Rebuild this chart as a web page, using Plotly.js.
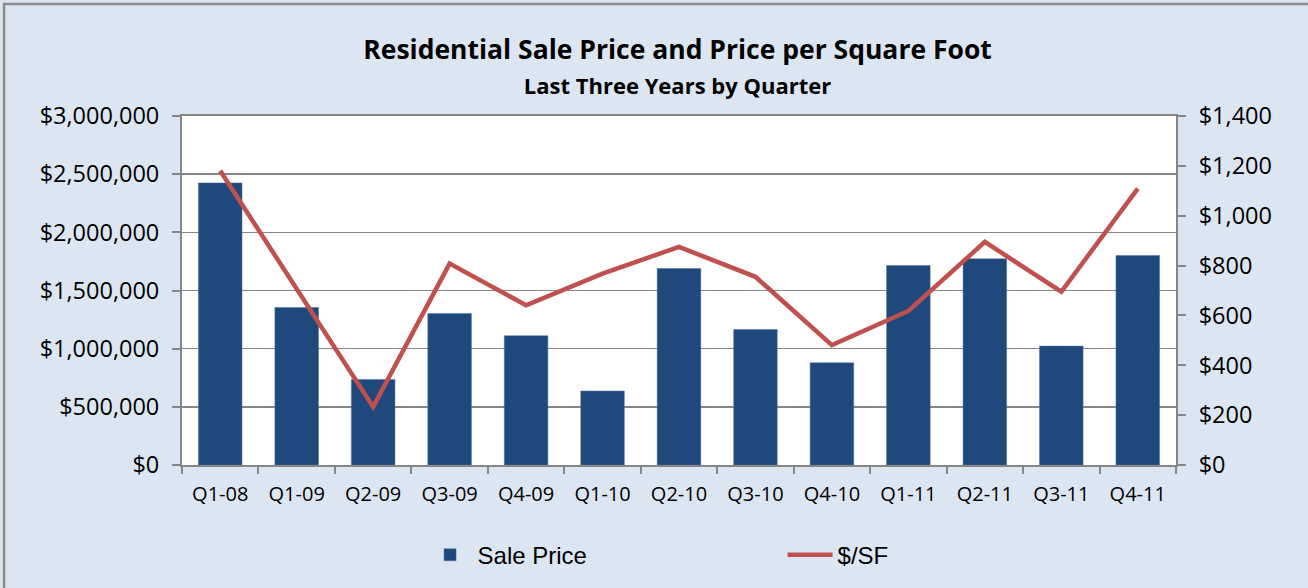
<!DOCTYPE html>
<html>
<head>
<meta charset="utf-8">
<script src="https://cdn.plot.ly/plotly-3.0.1.min.js"></script>
<style>html,body{margin:0;padding:0;background:#dce6f2;}#chart{width:1308px;height:588px;}</style>
</head>
<body>
<div id="chart"></div>
<script>
const quarters = ["Q1-08","Q1-09","Q2-09","Q3-09","Q4-09","Q1-10","Q2-10","Q3-10","Q4-10","Q1-11","Q2-11","Q3-11","Q4-11"];
const salePrice = [2425000,1354000,736000,1303000,1111000,636000,1689000,1165000,879000,1715000,1772000,1022000,1801000];
const pricePerSF = [1180,705,233,808,641,768,875,755,481,618,895,695,1109];
const leftTicks = [0,500000,1000000,1500000,2000000,2500000,3000000];
const rightTicks = [0,200,400,600,800,1000,1200,1400];

const fam = "'Open Sans', Lato, sans-serif";
const axisColor = "#868686";

const traces = [
  {type:"bar", name:"Sale Price", x:quarters, y:salePrice, marker:{color:"#1f497d", line:{color:"#4f6f9a", width:0.5}}, yaxis:"y"},
  {type:"scatter", mode:"lines", name:"$/SF", x:quarters, y:pricePerSF, line:{color:"#c0504d", width:4.5}, yaxis:"y2"}
];

const layout = {
  width:1308, height:588,
  paper_bgcolor:"#dce6f2", plot_bgcolor:"#ffffff",
  margin:{l:182, r:132, t:116, b:123, autoexpand:false},
  bargap:0.43,
  showlegend:true,
  title:{text:"<b>Residential Sale Price and Price per Square Foot</b><br><span style='font-size:22px'><b>Last Three Years by Quarter</b></span>", font:{family:fam, size:26.5, color:"#000"}, x:0.518, xanchor:"center", y:0.899, yanchor:"top"},
  xaxis:{type:"category", showline:true, mirror:true, linecolor:axisColor, linewidth:2, ticks:"outside", tickson:"boundaries", ticklen:7, tickcolor:axisColor, tickwidth:2, ticklabelstandoff:10, tickfont:{family:fam, size:20, color:"#000"}, showgrid:false, fixedrange:true},
  yaxis:{range:[0,3000000], tickvals:leftTicks, tickformat:"$,.0f", showline:true, linecolor:axisColor, linewidth:2, ticks:"outside", ticklen:8, tickcolor:axisColor, tickwidth:2, ticklabelstandoff:8, gridcolor:axisColor, gridwidth:1.6, tickfont:{family:fam, size:23.5, color:"#000"}, zeroline:false},
  yaxis2:{range:[0,1400], tickvals:rightTicks, tickformat:"$,.0f", overlaying:"y", side:"right", showline:true, linecolor:axisColor, linewidth:2, ticks:"outside", ticklen:8, tickcolor:axisColor, tickwidth:2, ticklabelstandoff:8, showgrid:false, zeroline:false, tickfont:{family:fam, size:23.5, color:"#000"}},
  legend:{orientation:"h", x:0.242, xanchor:"left", y:-0.194, yanchor:"top", font:{family:"'Liberation Sans', Arial, sans-serif", size:24, color:"#000"}, bgcolor:"rgba(0,0,0,0)", itemwidth:45, entrywidth:300, entrywidthmode:"pixels"},
  shapes:[{type:"rect", xref:"paper", yref:"paper", x0:-0.179, x1:1.14, y0:-0.36, y1:1.321, line:{color:"#8c8c8c", width:2.5}, fillcolor:"rgba(0,0,0,0)", layer:"below"}]
};

Plotly.newPlot("chart", traces, layout, {displayModeBar:false, staticPlot:true});
</script>
</body>
</html>
